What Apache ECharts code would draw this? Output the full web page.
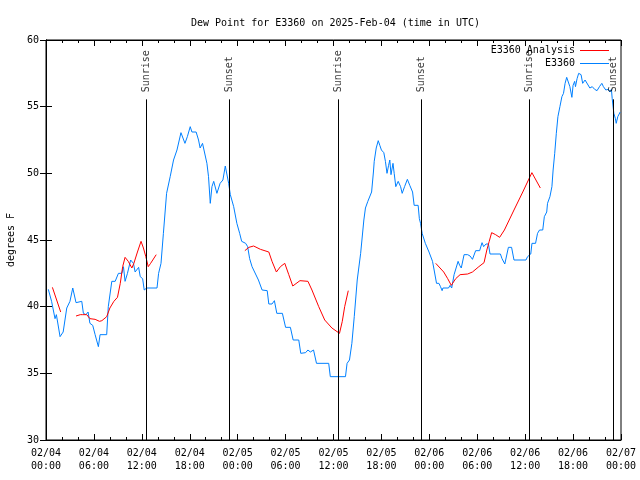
<!DOCTYPE html>
<html>
<head>
<meta charset="utf-8">
<script src="https://cdn.jsdelivr.net/npm/echarts@6/dist/echarts.min.js"></script>
<style>html,body{margin:0;padding:0;background:#fff}#c{width:640px;height:480px}</style>
</head>
<body>
<div id="c"></div>
<script>
// hours since 2025-02-04 00:00 UTC
var tickLabels = ['02/04\n00:00','02/04\n06:00','02/04\n12:00','02/04\n18:00','02/05\n00:00','02/05\n06:00','02/05\n12:00','02/05\n18:00','02/06\n00:00','02/06\n06:00','02/06\n12:00','02/06\n18:00','02/07\n00:00'];

var obsHours = [0.29,0.7,1.13,1.3,1.76,2.15,2.6,3.0,3.35,3.76,3.95,4.48,4.68,5.0,5.27,5.5,5.85,6.15,6.56,6.77,7.6,7.8,8.24,8.66,9.07,9.5,9.7,9.9,10.2,10.6,10.95,11.16,11.6,11.8,12.1,12.3,12.6,13.9,14.1,14.4,14.7,15.1,15.55,15.97,16.4,16.6,16.9,17.1,17.4,17.7,18.06,18.27,18.8,19.1,19.3,19.6,19.85,20.15,20.35,20.57,20.78,21.0,21.4,21.8,22.15,22.45,22.65,22.87,23.08,23.5,23.9,24.25,24.5,25.0,25.25,25.5,25.8,26.0,26.6,27.06,27.7,27.9,28.3,28.6,28.9,29.6,30.0,30.6,30.95,31.65,31.9,32.5,32.8,33.1,33.5,33.87,35.4,35.6,37.5,37.7,38.0,38.3,38.6,38.97,39.4,39.8,40.0,40.3,40.55,40.77,41.0,41.1,41.35,41.6,41.8,42.0,42.3,42.5,42.7,42.9,43.05,43.2,43.45,43.6,43.8,44.1,44.4,44.6,44.9,45.25,45.55,45.9,46.1,46.6,46.75,46.9,47.1,47.5,47.96,48.4,48.6,48.9,49.2,49.4,49.6,49.7,50.4,50.6,50.8,51.1,51.3,51.6,51.8,52.0,52.35,52.8,53.1,53.4,53.8,54.3,54.6,54.8,55.1,55.4,55.6,56.9,57.1,57.45,57.7,57.9,58.3,58.6,60.1,60.3,60.7,60.85,61.3,61.55,61.8,62.2,62.4,62.7,62.8,63.1,63.35,63.5,63.7,63.9,64.1,64.35,64.6,64.8,65.0,65.2,65.4,65.6,65.85,66.0,66.2,66.3,66.5,66.7,67.0,67.2,67.5,67.8,68.1,68.4,68.7,69.0,69.3,69.6,69.8,70.1,70.4,70.6,70.8,70.9,71.1,71.3,71.4,71.6,71.9];
var obsValues = [41.3,40.4,39.1,39.4,37.75,38.1,39.9,40.4,41.4,40.3,40.4,40.4,39.5,39.4,39.6,38.75,38.6,37.9,37.0,37.9,37.9,40.0,41.9,41.9,42.5,42.5,43.0,41.9,42.5,43.5,43.25,42.6,42.95,42.25,42.1,41.25,41.4,41.4,42.5,43.25,45.5,48.5,49.75,51.0,51.75,51.75,53.05,53.0,52.25,52.75,53.5,53.1,53.1,52.5,51.9,52.25,52.25,50.75,49.75,47.75,49.0,49.4,48.5,49.25,49.5,50.55,50.4,49.25,48.4,47.5,46.25,45.5,44.9,44.75,44.5,43.6,43.0,43.1,42.0,41.25,41.2,40.2,40.2,40.45,39.5,39.5,38.45,38.45,37.5,37.5,36.5,36.55,36.75,36.6,36.75,35.75,35.75,34.75,34.75,35.75,36.0,37.25,39.25,42.0,44.0,46.5,47.4,47.9,48.0,48.6,50.1,50.9,51.9,52.45,52.1,51.75,51.55,50.9,50.0,50.6,51.0,49.9,50.75,50.0,49.0,49.4,49.0,48.5,49.0,49.55,49.1,48.6,47.6,47.6,46.6,46.25,45.5,44.75,44.1,43.4,42.75,41.75,41.75,41.5,41.2,41.4,41.4,41.6,41.4,42.4,42.5,43.4,43.1,42.9,43.9,43.9,43.8,43.55,44.2,44.2,44.8,44.5,44.7,44.7,43.95,43.95,43.6,43.2,43.2,44.45,44.45,43.5,43.5,43.75,43.95,44.75,44.75,45.5,45.75,45.75,46.75,47.1,47.75,48.25,49.0,50.25,51.5,53.0,54.25,55.0,55.75,56.0,56.75,57.2,57.1,56.5,55.7,56.6,56.9,56.5,57.1,57.5,57.4,56.75,57.0,56.7,56.4,56.5,56.3,56.2,56.5,56.75,56.5,56.25,56.3,56.1,56.3,55.6,54.5,54.1,53.75,54.25,54.6];

var anaHours = [0.8,1.84,2.8,3.76,4.3,4.6,5.1,5.5,6.15,6.7,7.0,7.6,8.0,8.5,8.95,9.3,9.6,9.9,10.3,10.75,11.0,11.45,11.9,12.2,12.5,12.8,13.1,13.8,19,24.9,25.4,26.0,26.85,27.9,28.3,28.85,29.35,29.9,30.4,30.9,31.8,32.8,33.3,34.15,34.9,35.8,36.75,37.1,37.4,37.85,43,48.8,49.8,50.3,50.75,51.3,51.85,52.8,53.4,54.2,54.85,55.2,55.5,55.8,56.3,56.8,57.4,58.6,59.7,60.84,61.9];
var anaValues = [41.45,39.6,null,39.3,39.4,39.4,39.4,39.1,39.05,38.9,38.95,39.25,39.9,40.4,40.7,41.75,43.0,43.7,43.4,42.9,43.25,44.1,44.9,44.4,43.75,43.0,43.25,43.9,null,44.2,44.45,44.55,44.3,44.1,43.4,42.6,43.0,43.25,42.4,41.55,41.95,41.9,41.25,40.0,39.0,38.4,38.0,38.9,40.0,41.2,null,43.25,42.6,42.1,41.6,42.1,42.4,42.45,42.6,43.0,43.3,44.25,44.9,45.55,45.4,45.2,45.75,47.25,48.6,50.05,48.9];

var sunHours = [12.56,22.95,36.6,47.0,60.52,71.04];
var sunNames = ['Sunrise','Sunset','Sunrise','Sunset','Sunrise','Sunset'];
var sunTop = 55.55;

function pairs(h, v){ return h.map(function(x,i){ return [x, v[i]]; }); }

var font = 'DejaVu Sans Mono';
var chart = echarts.init(document.getElementById('c'), null, {renderer:'canvas'});
var axisCommon = {
  type:'value', min:0, max:72, interval:6,
  axisLine:{show:true, lineStyle:{color:'#000', width:1}},
  axisTick:{show:true, inside:true, length:6, lineStyle:{color:'#000'}},
  minorTick:{show:true, splitNumber:3, length:3, lineStyle:{color:'#000'}},
  splitLine:{show:false}
};
var yCommon = {
  type:'value', min:30, max:60, interval:5,
  axisLine:{show:true, lineStyle:{color:'#000', width:1}},
  axisTick:{show:true, inside:true, length:6, lineStyle:{color:'#000'}},
  splitLine:{show:false}
};
chart.setOption({
  animation:false,
  backgroundColor:'#fff',
  textStyle:{fontFamily:font},
  title:{text:'Dew Point for E3360 on 2025-Feb-04 (time in UTC)', left:186, top:13,
    textStyle:{fontFamily:font, fontSize:10, fontWeight:'normal', color:'#000'}},
  grid:{left:46, right:19, top:40, bottom:40, show:true, borderColor:'#000', borderWidth:1,
    containLabel:false, outerBoundsMode:'none'},
  legend:{orient:'vertical', right:31, top:44, padding:0, align:'right', itemGap:0,
    itemWidth:29, itemHeight:1, icon:'rect',
    textStyle:{fontFamily:font, fontSize:10, color:'#000', lineHeight:13},
    data:['E3360 Analysis','E3360']},
  xAxis:[
    Object.assign({}, axisCommon, {position:'bottom',
      axisLabel:{show:true, margin:7, fontFamily:font, fontSize:10, lineHeight:13, color:'#000',
        showMaxLabel:true, showMinLabel:true,
        formatter:function(v){ return tickLabels[Math.round(v/6)]; }}}),
    Object.assign({}, axisCommon, {position:'top', axisLabel:{show:false}})
  ],
  yAxis:[
    Object.assign({}, yCommon, {position:'left', name:'degrees F', nameLocation:'middle', nameGap:30,
      nameTextStyle:{fontFamily:font, fontSize:10, color:'#000'},
      axisLabel:{margin:7, fontFamily:font, fontSize:10, color:'#000'}}),
    Object.assign({}, yCommon, {position:'right', axisLabel:{show:false}})
  ],
  series:[
    {name:'E3360 Analysis', type:'line', data:pairs(anaHours, anaValues), symbol:'none',
      connectNulls:false, lineStyle:{color:'#ff0000', width:1}, itemStyle:{color:'#ff0000'}, z:3},
    {name:'E3360', type:'line', data:pairs(obsHours, obsValues), symbol:'none',
      lineStyle:{color:'#0080ff', width:1}, itemStyle:{color:'#0080ff'}, z:2},
    {name:'sun', type:'scatter', symbolSize:0, silent:true, z:4,
      data:sunHours.map(function(h,i){ return {value:[h, sunTop], name:sunNames[i]}; }),
      label:{show:true, position:'top', distance:7, rotate:90, align:'left', verticalAlign:'middle',
        fontFamily:font, fontSize:10, color:'#000', formatter:function(p){ return p.name; }},
      markLine:{silent:true, symbol:'none', animation:false,
        lineStyle:{color:'#000', width:1, type:'solid'}, label:{show:false},
        data:sunHours.map(function(h){ return [{coord:[h,30]},{coord:[h,sunTop]}]; })}
    }
  ]
});
</script>
</body>
</html>
